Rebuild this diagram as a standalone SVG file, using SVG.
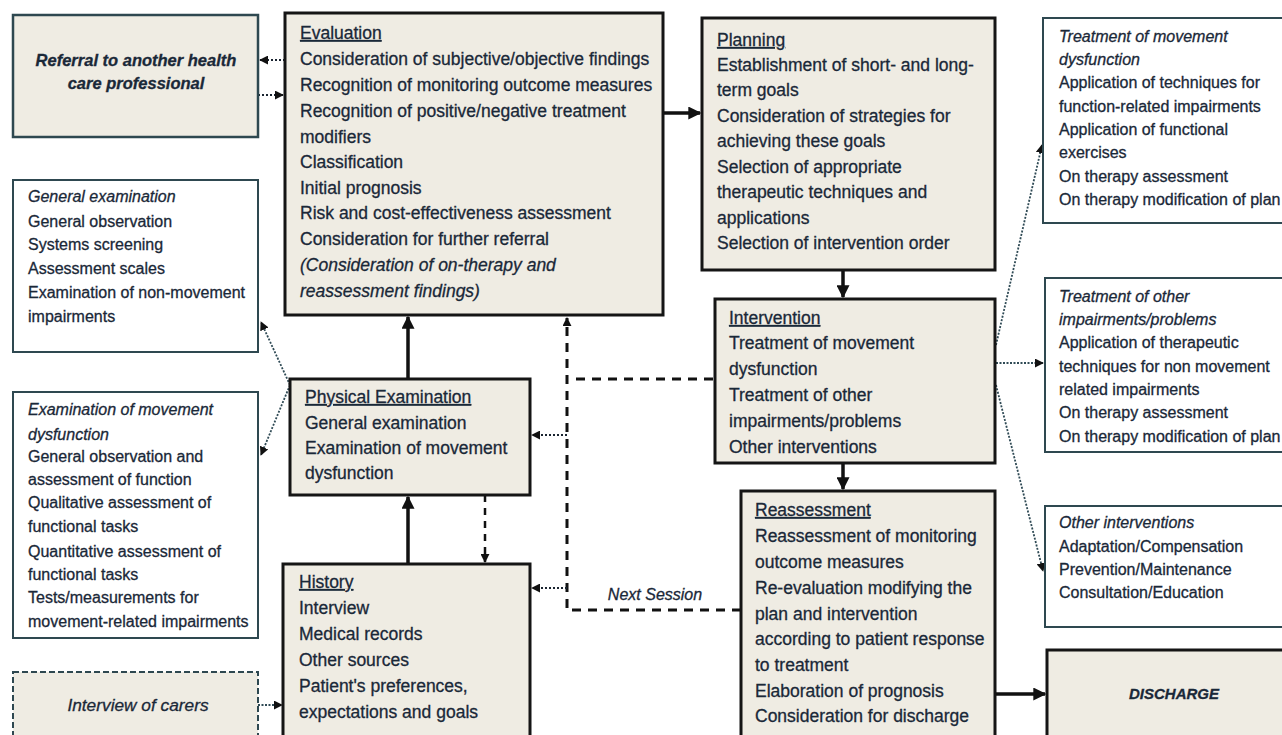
<svg xmlns="http://www.w3.org/2000/svg" width="1282" height="735" viewBox="0 0 1282 735">
<style>
text{font-family:"Liberation Sans",Arial,sans-serif;fill:#1a2838;stroke:#1a2838;stroke-width:0.3}
.m{font-size:17.5px}
.s{font-size:16px}
.i{font-style:italic}
.u{text-decoration:underline}
.main{fill:#efece3;stroke:#151515;stroke-width:3}
.thin{fill:#ffffff;stroke:#2e4850;stroke-width:2}
.ref{fill:#efece3;stroke:#2e4850;stroke-width:2.5}
.solid{stroke:#111;stroke-width:3.5;fill:none}
.dash{stroke:#111;stroke-width:3;fill:none;stroke-dasharray:9,7}
.dot{stroke:#1a2430;stroke-width:2;fill:none;stroke-dasharray:2,2}
.tdot{stroke:#2f4a55;stroke-width:1.8;fill:none;stroke-dasharray:2,1.5}
</style>
<defs>
<marker id="ah" viewBox="0 0 10 10" refX="9" refY="5" markerWidth="13" markerHeight="13" markerUnits="userSpaceOnUse" orient="auto"><path d="M0,0 L10,5 L0,10 z" fill="#111"/></marker>
<marker id="as" viewBox="0 0 10 10" refX="9" refY="5" markerWidth="9" markerHeight="9" markerUnits="userSpaceOnUse" orient="auto"><path d="M0,0 L10,5 L0,10 z" fill="#111"/></marker>
</defs>
<rect width="1282" height="735" fill="#ffffff"/>

<g id="connectors">
<line class="dot" x1="285" y1="60" x2="260" y2="60" marker-end="url(#as)"/>
<line class="dot" x1="258" y1="95" x2="283" y2="95" marker-end="url(#as)"/>
<line class="solid" x1="663" y1="113" x2="700" y2="113" marker-end="url(#ah)"/>
<line class="solid" x1="843" y1="270" x2="843" y2="297" marker-end="url(#ah)"/>
<line class="solid" x1="843" y1="463" x2="843" y2="489" marker-end="url(#ah)"/>
<line class="solid" x1="995" y1="694" x2="1045" y2="694" marker-end="url(#ah)"/>
<line class="solid" x1="408" y1="379" x2="408" y2="317" marker-end="url(#ah)"/>
<line class="solid" x1="408" y1="564" x2="408" y2="497" marker-end="url(#ah)"/>
<line class="dash" style="stroke-width:2.5;stroke-dasharray:7,6" x1="485" y1="495" x2="485" y2="562" marker-end="url(#as)"/>
<line class="dash" x1="713" y1="379" x2="575" y2="379"/>
<polyline class="dash" points="741,610 567,610 567,318" marker-end="url(#as)"/>
<line class="dot" x1="567" y1="435" x2="532" y2="435" marker-end="url(#as)"/>
<line class="dot" x1="567" y1="588" x2="532" y2="588" marker-end="url(#as)"/>
<line class="tdot" x1="996" y1="345" x2="1042" y2="145" marker-end="url(#as)"/>
<line class="tdot" x1="996" y1="363" x2="1043" y2="363" marker-end="url(#as)"/>
<line class="tdot" x1="996" y1="385" x2="1043" y2="571" marker-end="url(#as)"/>
<line class="tdot" x1="290" y1="385" x2="261" y2="322" marker-end="url(#as)"/>
<line class="tdot" x1="290" y1="385" x2="261" y2="455" marker-end="url(#as)"/>
<line class="tdot" x1="258" y1="705" x2="282" y2="705" marker-end="url(#as)"/>
</g>

<g id="referral">
<rect class="ref" x="13" y="15" width="245" height="122"/>
<text class="s i" style="font-weight:bold;font-size:16.5px" text-anchor="middle" x="136" y="66">Referral to another health</text>
<text class="s i" style="font-weight:bold;font-size:16.5px" text-anchor="middle" x="136" y="89">care professional</text>
</g>

<g id="evaluation">
<rect class="main" x="285" y="13" width="378" height="302"/>
<text class="m" x="300" y="39"><tspan class="u">Evaluation</tspan></text>
<text class="m" x="300" y="65">Consideration of subjective/objective findings</text>
<text class="m" x="300" y="91">Recognition of monitoring outcome measures</text>
<text class="m" x="300" y="117">Recognition of positive/negative treatment</text>
<text class="m" x="300" y="143">modifiers</text>
<text class="m" x="300" y="168">Classification</text>
<text class="m" x="300" y="194">Initial prognosis</text>
<text class="m" x="300" y="219">Risk and cost-effectiveness assessment</text>
<text class="m" x="300" y="245">Consideration for further referral</text>
<text class="m i" x="300" y="271">(Consideration of on-therapy and</text>
<text class="m i" x="300" y="297">reassessment findings)</text>
</g>

<g id="planning">
<rect class="main" x="702" y="18" width="293" height="252"/>
<text class="m" x="717" y="46"><tspan class="u">Planning</tspan></text>
<text class="m" x="717" y="71">Establishment of short- and long-</text>
<text class="m" x="717" y="96">term goals</text>
<text class="m" x="717" y="122">Consideration of strategies for</text>
<text class="m" x="717" y="147">achieving these goals</text>
<text class="m" x="717" y="173">Selection of appropriate</text>
<text class="m" x="717" y="198">therapeutic techniques and</text>
<text class="m" x="717" y="224">applications</text>
<text class="m" x="717" y="249">Selection of intervention order</text>
</g>

<g id="treat-movement">
<rect class="thin" x="1043" y="18" width="250" height="205"/>
<text class="s i" x="1059" y="42">Treatment of movement</text>
<text class="s i" x="1059" y="65">dysfunction</text>
<text class="s" x="1059" y="88">Application of techniques for</text>
<text class="s" x="1059" y="112">function-related impairments</text>
<text class="s" x="1059" y="135">Application of functional</text>
<text class="s" x="1059" y="158">exercises</text>
<text class="s" x="1059" y="182">On therapy assessment</text>
<text class="s" x="1059" y="205">On therapy modification of plan</text>
</g>

<g id="general-exam">
<rect class="thin" x="13" y="180" width="245" height="172"/>
<text class="s i" x="28" y="202">General examination</text>
<text class="s" x="28" y="227">General observation</text>
<text class="s" x="28" y="250">Systems screening</text>
<text class="s" x="28" y="274">Assessment scales</text>
<text class="s" x="28" y="298">Examination of non-movement</text>
<text class="s" x="28" y="322">impairments</text>
</g>

<g id="movement-exam">
<rect class="thin" x="13" y="392" width="245" height="246"/>
<text class="s i" x="28" y="415">Examination of movement</text>
<text class="s i" x="28" y="440">dysfunction</text>
<text class="s" x="28" y="462">General observation and</text>
<text class="s" x="28" y="485">assessment of function</text>
<text class="s" x="28" y="508">Qualitative assessment of</text>
<text class="s" x="28" y="532">functional tasks</text>
<text class="s" x="28" y="557">Quantitative assessment of</text>
<text class="s" x="28" y="580">functional tasks</text>
<text class="s" x="28" y="603">Tests/measurements for</text>
<text class="s" x="28" y="627">movement-related impairments</text>
</g>

<g id="carers">
<rect x="13" y="672" width="245" height="80" fill="#efece3" stroke="#2e4850" stroke-width="2" stroke-dasharray="6,3"/>
<text class="i" style="font-size:17.3px" text-anchor="middle" x="138" y="711">Interview of carers</text>
</g>

<g id="physical-exam">
<rect class="main" x="290" y="379" width="240" height="116"/>
<text class="m" x="305" y="403"><tspan class="u">Physical Examination</tspan></text>
<text class="m" x="305" y="429">General examination</text>
<text class="m" x="305" y="454">Examination of movement</text>
<text class="m" x="305" y="479">dysfunction</text>
</g>

<g id="history">
<rect class="main" x="283" y="564" width="247" height="190"/>
<text class="m" x="299" y="588"><tspan class="u">History</tspan></text>
<text class="m" x="299" y="614">Interview</text>
<text class="m" x="299" y="640">Medical records</text>
<text class="m" x="299" y="666">Other sources</text>
<text class="m" x="299" y="692">Patient's preferences,</text>
<text class="m" x="299" y="718">expectations and goals</text>
</g>

<g id="intervention">
<rect class="main" x="715" y="299" width="280" height="164"/>
<text class="m" x="729" y="324"><tspan class="u">Intervention</tspan></text>
<text class="m" x="729" y="349">Treatment of movement</text>
<text class="m" x="729" y="375">dysfunction</text>
<text class="m" x="729" y="401">Treatment of other</text>
<text class="m" x="729" y="427">impairments/problems</text>
<text class="m" x="729" y="453">Other interventions</text>
</g>

<g id="next-session">
<text class="i" style="font-size:16px" text-anchor="middle" x="655" y="600">Next Session</text>
</g>

<g id="reassessment">
<rect class="main" x="741" y="491" width="254" height="260"/>
<text class="m" x="755" y="516"><tspan class="u">Reassessment</tspan></text>
<text class="m" x="755" y="542">Reassessment of monitoring</text>
<text class="m" x="755" y="568">outcome measures</text>
<text class="m" x="755" y="594">Re-evaluation modifying the</text>
<text class="m" x="755" y="620">plan and intervention</text>
<text class="m" x="755" y="645">according to patient response</text>
<text class="m" x="755" y="671">to treatment</text>
<text class="m" x="755" y="697">Elaboration of prognosis</text>
<text class="m" x="755" y="722">Consideration for discharge</text>
</g>

<g id="treat-other">
<rect class="thin" x="1045" y="278" width="250" height="174"/>
<text class="s i" x="1059" y="302">Treatment of other</text>
<text class="s i" x="1059" y="325">impairments/problems</text>
<text class="s" x="1059" y="348">Application of therapeutic</text>
<text class="s" x="1059" y="372">techniques for non movement</text>
<text class="s" x="1059" y="395">related impairments</text>
<text class="s" x="1059" y="418">On therapy assessment</text>
<text class="s" x="1059" y="442">On therapy modification of plan</text>
</g>

<g id="other-interventions">
<rect class="thin" x="1045" y="506" width="250" height="121"/>
<text class="s i" x="1059" y="528">Other interventions</text>
<text class="s" x="1059" y="552">Adaptation/Compensation</text>
<text class="s" x="1059" y="575">Prevention/Maintenance</text>
<text class="s" x="1059" y="598">Consultation/Education</text>
</g>

<g id="discharge">
<rect class="main" x="1047" y="650" width="250" height="100"/>
<text class="i" style="font-size:15px;font-weight:bold" text-anchor="middle" x="1174" y="699">DISCHARGE</text>
</g>
</svg>
